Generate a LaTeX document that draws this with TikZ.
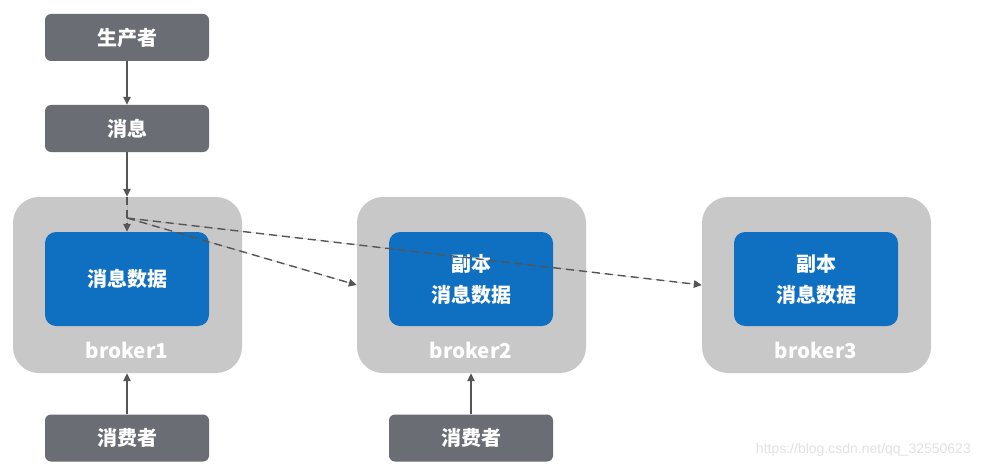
\documentclass[tikz,border=0pt]{standalone}
\usepackage{fontspec}
\setmainfont{Noto Sans CJK SC}
\newfontfamily\wmfont{Liberation Sans}
\usetikzlibrary{arrows.meta}
\definecolor{darkbox}{HTML}{6B6D75}
\definecolor{bluebox}{HTML}{0F6FC1}
\definecolor{graybox}{HTML}{C8C8C8}
\definecolor{lineclr}{HTML}{555555}
\definecolor{wmclr}{HTML}{E2E2E2}
\tikzset{
  darknode/.style={rectangle, rounded corners=6pt, fill=darkbox, text=white,
    minimum width=164pt, minimum height=47pt, inner sep=0pt,
    font=\bfseries\fontsize{20}{22}\selectfont},
  brokernode/.style={rectangle, rounded corners=26pt, fill=graybox,
    minimum width=229pt, minimum height=176pt, inner sep=0pt},
  datanode/.style={rectangle, rounded corners=11pt, fill=bluebox, text=white,
    minimum width=164pt, minimum height=94pt, inner sep=0pt, align=center,
    font=\bfseries\fontsize{20}{31}\selectfont},
  brokerlabel/.style={text=white, inner sep=0pt,
    font=\bfseries\fontsize{20.5}{22}\selectfont},
  arr/.style={draw=lineclr, line width=1.4pt, -{Triangle[width=7.5pt,length=8pt]}, fill=lineclr},
  dasharr/.style={arr, dash pattern=on 8pt off 5pt},
}
\begin{document}
\begin{tikzpicture}[x=1pt,y=-1pt]
\useasboundingbox (0,0) rectangle (981,468);
\fill[white] (0,0) rectangle (981,468);

\node[darknode] (prod) at (127,37.5) {生产者};
\node[darknode] (msg) at (127,128.5) {消息};

\node[brokernode] (b1) at (127.5,285) {};
\node[brokernode] (b2) at (471.5,285) {};
\node[brokernode] (b3) at (816.5,285) {};

\node[datanode] (d1) at (127,279) {消息数据};
\node[datanode] (d2) at (471,279) {副本\\消息数据};
\node[datanode] (d3) at (816,279) {副本\\消息数据};

\node[brokerlabel] (l1) at (127,350) {broker1};
\node[brokerlabel] (l2) at (471,350) {broker2};
\node[brokerlabel] (l3) at (816,350) {broker3};

\node[darknode] (c1) at (127,438) {消费者};
\node[darknode] (c2) at (471,438) {消费者};

\coordinate (split) at (127,218);

\draw[arr] (prod.south) -- (msg.north);
\draw[arr] (msg.south) -- (msg.south |- b1.north);
\draw[dasharr] (msg.south |- b1.north) -- (d1.north);
\draw[dasharr] (split) -- (b2.west);
\draw[dasharr] (split) -- (b3.west);
\draw[arr] (c1.north) -- (c1.north |- b1.south);
\draw[arr] (c2.north) -- (c2.north |- b2.south);

\node[text=wmclr, font=\wmfont\fontsize{14}{16}\selectfont, anchor=east, inner sep=0pt] (wm) at (971,450) {https://blog.csdn.net/qq\_32550623};
\end{tikzpicture}
\end{document}
